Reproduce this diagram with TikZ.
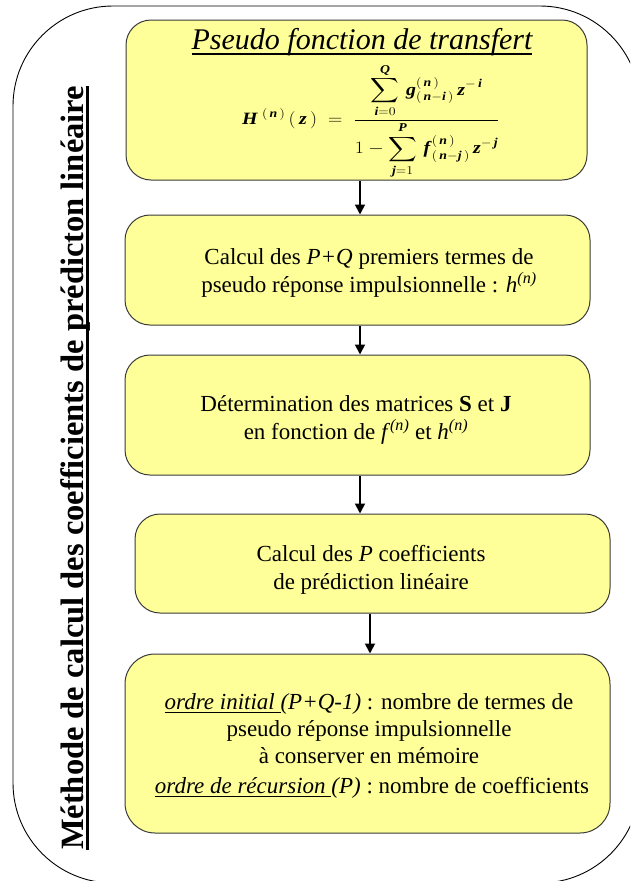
\documentclass[tikz,border=0pt]{standalone}
\usepackage{fontspec}
\setmainfont{Liberation Serif}
\usepackage{amsmath}
\usetikzlibrary{arrows.meta}
\definecolor{boxfill}{HTML}{FFFF99}
\definecolor{boxline}{HTML}{3A3A3A}
\newcommand{\bi}[1]{\textbf{\textit{#1}}}
\newsavebox{\myulbox}
\newcommand{\myul}[3]{\leavevmode\sbox{\myulbox}{#3}\rlap{\rule[-#2]{\wd\myulbox}{#1}}\usebox{\myulbox}}
\tikzset{
  box/.style={draw=boxline, line width=1pt, fill=boxfill, rounded corners=25pt, inner sep=0pt},
  txt/.style={align=center, font=\fontsize{23}{28.5}\selectfont, inner sep=0pt},
  arr/.style={line width=1.8pt, -{Triangle[length=10pt,width=10pt]}},
}
\begin{document}
\begin{tikzpicture}[x=1pt,y=-1pt]
\useasboundingbox (0,0) rectangle (630,881);
\clip (0,0) rectangle (630,881);
\draw[line width=0.9pt, rounded corners=100pt] (13,6) rectangle (640,883);

\node[rotate=90, anchor=base, inner sep=0pt, font=\fontsize{32.5}{36}\selectfont\bfseries] (vt) at (83,468)
  {\myul{3pt}{6pt}{Méthode de calcul des coefficients de prédicton linéaire}};

\node[box, minimum width=461pt, minimum height=160pt] (b1) at (356.5,100) {};
\node[box, minimum width=465pt, minimum height=110pt] (b2) at (357.5,270) {};
\node[box, minimum width=465pt, minimum height=120pt] (b3) at (357.5,415) {};
\node[box, minimum width=475pt, minimum height=99pt] (b4) at (372.5,563.5) {};
\node[box, rounded corners=30pt, minimum width=485pt, minimum height=179pt] (b5) at (367.5,743.5) {};

\node[anchor=base, inner sep=0pt, font=\fontsize{30}{34}\selectfont\itshape] (ttl) at (362,49)
  {\myul{2pt}{6pt}{Pseudo fonction de transfert}};
\node[inner sep=0pt] (frm) at (371,121) {\scalebox{1.15}[1.0]{\LARGE$\displaystyle
  \bi{H}^{\;(\,\bi{n}\,)}\,(\,\bi{z}\,) \;=\; \frac{\displaystyle\sum_{\bi{i}=0}^{\bi{Q}} \,\bi{g}^{(\,\bi{n}\,)}_{(\,\bi{n}-\bi{i}\,)}\,\bi{z}^{-\,\bi{i}}}
  {1-\displaystyle\sum_{\bi{j}=1}^{\bi{P}} \,\bi{f}^{(\,\bi{n}\,)}_{(\,\bi{n}-\bi{j}\,)}\,\bi{z}^{-\,\bi{j}}}$}};

\node[txt] (t2) at (369,273) {Calcul des \textit{P+Q} premiers termes de\\pseudo réponse impulsionnelle : \textit{h}\textsuperscript{\textit{(n)}}};
\node[txt] (t3) at (356,420) {Détermination des matrices \textbf{S} et \textbf{J}\\en fonction de \textit{f}\textsuperscript{\textit{(n)}} et \textit{h}\textsuperscript{\textit{(n)}}};
\node[txt] (t4) at (371,570) {Calcul des \textit{P} coefficients\\de prédiction linéaire};
\node[txt, font=\fontsize{23}{27}\selectfont] (t5) at (369,746)
  {\myul{0.8pt}{3pt}{\textit{ordre initial }}\textit{(P+Q-1)} : nombre de termes de\\
   pseudo réponse impulsionnelle\\
   à conserver en mémoire\\[3pt]
   \hspace*{6pt}\myul{0.8pt}{3pt}{\textit{ordre de récursion }}\textit{(P)} : nombre de coefficients};

\coordinate (ax) at (360,0);
\coordinate (bx) at (370,0);
\draw[arr] (ax |- b1.south) -- (ax |- b2.north);
\draw[arr] (ax |- b2.south) -- (ax |- b3.north);
\draw[arr] (ax |- b3.south) -- (ax |- b4.north);
\draw[arr] (bx |- b4.south) -- (bx |- b5.north);
\end{tikzpicture}
\end{document}
